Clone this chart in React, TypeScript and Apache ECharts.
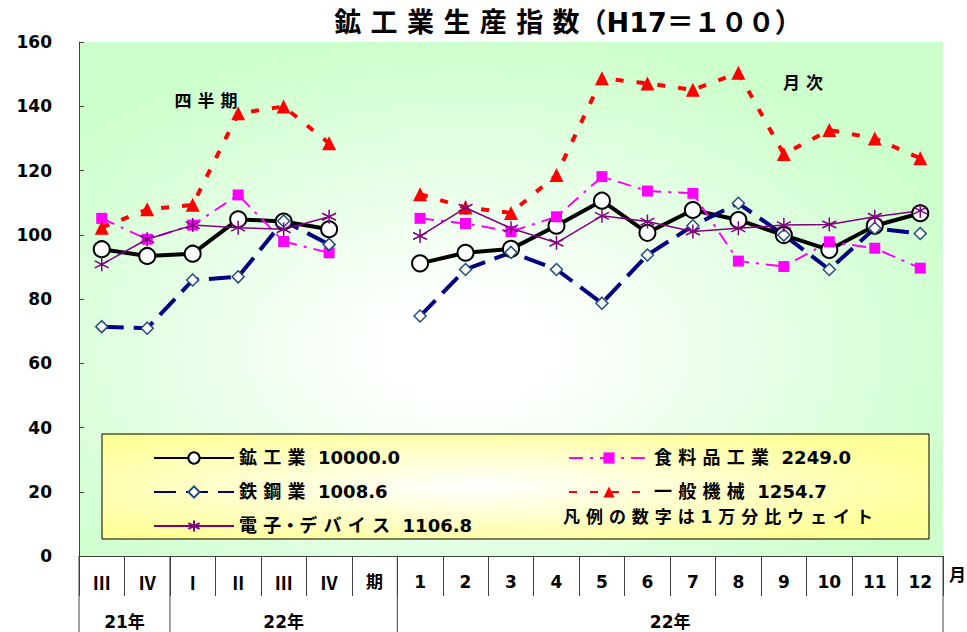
import React, { useEffect, useRef } from "react";
import * as echarts from "echarts";

const categories = ["Ⅲ", "Ⅳ", "Ⅰ", "Ⅱ", "Ⅲ", "Ⅳ", "期", "1", "2", "3", "4", "5", "6", "7", "8", "9", "10", "11", "12"];

const mining = [95.5, 93.4, 94.1, 104.8, 104.1, 101.7, null, 91.1, 94.4, 95.6, 102.8, 110.6, 100.6, 107.7, 104.6, 99.9, 95.3, 102.8, 106.7];
const steel = [71.4, 70.9, 85.9, 86.9, 104.3, 97.0, null, 74.7, 89.2, 94.5, 89.2, 78.7, 93.7, 102.8, 109.8, 99.9, 89.2, 102.0, 100.4];
const food = [105.1, 98.6, 103.0, 112.4, 97.9, 94.4, null, 105.1, 103.5, 101.0, 105.6, 118.1, 113.6, 112.9, 91.8, 90.1, 97.8, 95.8, 89.6];
const machinery = [102.2, 107.9, 109.3, 137.8, 139.9, 128.5, null, 112.6, 108.5, 106.8, 118.6, 148.7, 147.1, 145.1, 150.4, 125.1, 132.6, 130.0, 123.8];
const electronics = [90.8, 98.6, 103.0, 102.2, 101.7, 105.6, null, 99.6, 108.4, 102.0, 97.5, 105.9, 104.1, 101.0, 102.0, 103.0, 103.2, 105.6, 107.5];

const seriesNames = ["鉱工業", "食料品工業", "鉄鋼業", "一般機械", "電子・デバイス"];
const weights: Record<string, string> = {
  "鉱工業": "10000.0",
  "鉄鋼業": "1008.6",
  "電子・デバイス": "1106.8",
  "食料品工業": "2249.0",
  "一般機械": "1254.7",
};
const yearGroups = [
  { label: "21年", from: 0, to: 2 },
  { label: "22年", from: 2, to: 7 },
  { label: "22年", from: 7, to: 19 },
];
const titleText = "鉱工業生産指数";
const titleSuffix = "（H17＝１００）";
const noteText = "凡例の数字は1万分比ウェイト";

const FONT = '"DejaVu Sans", "Noto Sans CJK JP", sans-serif';
const CJK = '"Noto Sans CJK JP", sans-serif';
const GRID = { left: 79, top: 42, width: 864, height: 514 };

const spaced = (s: string) => Array.from(s).join(" ").replace(/ ・ /g, "・");
const roman = /^[ⅠⅡⅢⅣ]$/;

export default function App() {
  const ref = useRef<HTMLDivElement>(null);
  useEffect(() => {
    if (!ref.current) return;
    const chart = echarts.init(ref.current, null, { renderer: "svg" });
    const n = categories.length;
    const catW = GRID.width / n;
    const bottomY = GRID.top + GRID.height;
    const boundaries = Array.from(new Set(yearGroups.flatMap((g) => [g.from, g.to])));

    const txt = (text: string, x: number, y: number, size: number, align = "center") => ({
      type: "text",
      x,
      y,
      z: 5,
      style: {
        text,
        font: `bold ${size}px ${FONT}`,
        fill: "#000",
        align,
        verticalAlign: "middle",
        textAlign: align,
        textVerticalAlign: "middle",
      },
    });

    const graphic: any[] = [
      {
        type: "rect",
        z: 1,
        shape: { x: 102, y: 434, width: 827, height: 105 },
        style: {
          fill: new echarts.graphic.RadialGradient(0.45, 0.5, 0.6, [
            { offset: 0, color: "#ffffff" },
            { offset: 1, color: "#ffff99" },
          ]),
          stroke: "#000",
          lineWidth: 1,
        },
      },
      ...boundaries.map((b) => ({
        type: "line",
        z: 5,
        shape: { x1: GRID.left + b * catW, y1: bottomY, x2: GRID.left + b * catW, y2: 632 },
        style: { stroke: "#404040", lineWidth: 1 },
      })),
      ...yearGroups.map((g) => txt(g.label, GRID.left + ((g.from + g.to) / 2) * catW, 622, 17)),
      txt("月", 966, 575, 17, "right"),
      txt(spaced("四半期"), 206, 101, 17),
      txt(spaced("月次"), 803, 83, 17),
      txt(spaced(noteText), 718, 517, 17),
      txt(spaced(titleText) + titleSuffix, 568, 22, 27),
    ];

    const asterisk = "path://M7 0 L7 14 M0 3.5 L14 10.5 M0 10.5 L14 3.5";

    const legendText = {
      fontSize: 18,
      fontWeight: "bold",
      fontFamily: FONT,
      color: "#000",
    };
    const legendCommon = {
      orient: "vertical",
      top: 444,
      itemWidth: 80,
      itemHeight: 14,
      itemGap: 16,
      selectedMode: false,
      textStyle: legendText,
      formatter: (name: string) => `${spaced(name)}  ${weights[name]}`,
    };

    const option: any = {
      animation: false,
      graphic,
      grid: {
        ...GRID,
        containLabel: false,
        show: true,
        borderWidth: 0,
        backgroundColor: new echarts.graphic.RadialGradient(0.45, 0.6, 0.62, [
          { offset: 0, color: "#ffffff" },
          { offset: 0.15, color: "#ffffff" },
          { offset: 1, color: "#ccffcc" },
        ]),
      },
      legend: [
        { ...legendCommon, left: 148, data: ["鉱工業", "鉄鋼業", "電子・デバイス"] },
        { ...legendCommon, left: 563, data: ["食料品工業", "一般機械"] },
      ],
      xAxis: {
        type: "category",
        data: categories,
        boundaryGap: true,
        axisLine: { lineStyle: { color: "#404040", width: 1 } },
        axisTick: { show: true, length: 40, lineStyle: { color: "#404040" } },
        axisLabel: {
          interval: 0,
          margin: 17,
          fontSize: 17,
          fontWeight: "bold",
          fontFamily: FONT,
          color: "#000",
          formatter: (v: string) => (roman.test(v) ? `{r|${v}}` : v),
          rich: {
            r: { fontFamily: CJK, fontSize: 18, fontWeight: "bold", color: "#000" },
          },
        },
        splitLine: { show: false },
      },
      yAxis: {
        type: "value",
        min: 0,
        max: 160,
        interval: 20,
        axisLine: { show: true, lineStyle: { color: "#404040", width: 1 } },
        axisTick: { show: true, inside: true, length: 5, lineStyle: { color: "#404040" } },
        axisLabel: {
          margin: 27,
          fontSize: 17,
          fontWeight: "bold",
          fontFamily: FONT,
          color: "#000",
        },
        splitLine: { show: false },
      },
      series: [
        {
          name: seriesNames[0],
          type: "line",
          data: mining,
          symbol: "circle",
          symbolSize: 16,
          lineStyle: { color: "#000", width: 4 },
          itemStyle: { color: "#fff", borderColor: "#000", borderWidth: 2 },
        },
        {
          name: seriesNames[1],
          type: "line",
          data: food,
          symbol: "rect",
          symbolSize: 11,
          lineStyle: { color: "#ff00ff", width: 2, type: [14, 7, 3, 7] },
          itemStyle: { color: "#ff00ff", borderColor: "#ff00ff", borderWidth: 0 },
        },
        {
          name: seriesNames[2],
          type: "line",
          data: steel,
          symbol: "diamond",
          symbolSize: 12,
          lineStyle: { color: "#000080", width: 4, type: [22, 10] },
          itemStyle: { color: "#fff", borderColor: "#1f4e79", borderWidth: 1.5 },
        },
        {
          name: seriesNames[3],
          type: "line",
          data: machinery,
          symbol: "triangle",
          symbolSize: 14,
          lineStyle: { color: "#ff0000", width: 4, type: [8, 13] },
          itemStyle: { color: "#ff0000", borderColor: "#ff0000", borderWidth: 0 },
        },
        {
          name: seriesNames[4],
          type: "line",
          data: electronics,
          symbol: asterisk,
          symbolSize: 14,
          lineStyle: { color: "#800080", width: 1.5 },
          itemStyle: { color: "#800080", borderColor: "#800080", borderWidth: 1.5 },
        },
      ],
    };
    chart.setOption(option);
    return () => chart.dispose();
  }, []);

  return (
    <div
      ref={ref}
      style={{ position: "absolute", left: 0, top: 0, width: 967, height: 632, background: "#fff" }}
    />
  );
}
